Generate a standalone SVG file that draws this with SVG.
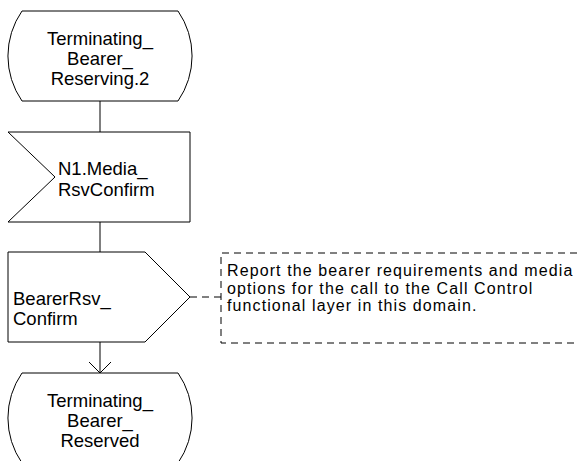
<svg xmlns="http://www.w3.org/2000/svg" width="581" height="461" viewBox="0 0 581 461">
<style>
.s{fill:#fff;stroke:#000;stroke-width:1}
.t{font-family:"Liberation Sans",Arial,sans-serif;font-size:18.5px;fill:#000}
.n{font-family:"Liberation Sans",Arial,sans-serif;font-size:16px;letter-spacing:1.1px;fill:#000}
.c{text-anchor:middle}
.l{fill:none;stroke:#000;stroke-width:1}
.d{fill:none;stroke:#000;stroke-width:1;stroke-dasharray:7 5}
</style>
<rect width="581" height="461" fill="#fff"/>
<g id="connectors">
<line class="l" x1="100" y1="101" x2="100" y2="132"/>
<line class="l" x1="100" y1="222" x2="100" y2="252"/>
<line class="l" x1="100" y1="342" x2="100" y2="373"/>
<polyline class="l" points="89,362 100,373 111,362"/>
<line class="d" x1="190" y1="297" x2="221" y2="297"/>
</g>
<g id="state1">
<path class="s" d="M22,11 L178,11 A79,79 0 0 1 178,101 L22,101 A79,79 0 0 1 22,11 Z"/>
<text class="t c" x="100" y="45">Terminating_</text>
<text class="t c" x="100" y="65">Bearer_</text>
<text class="t c" x="100" y="85">Reserving.2</text>
</g>
<g id="input1">
<polygon class="s" points="8,132 190,132 190,222 8,222 55,177"/>
<text class="t" x="58" y="175">N1.Media_</text>
<text class="t" x="58" y="196">RsvConfirm</text>
</g>
<g id="output1">
<polygon class="s" points="8,252 145,252 190,297 145,342 8,342"/>
<text class="t" x="13" y="305">BearerRsv_</text>
<text class="t" x="13" y="325">Confirm</text>
</g>
<g id="comment">
<polyline class="d" points="577,253 221,253 221,343 577,343"/>
<text class="n" x="227" y="276">Report the bearer requirements and media</text>
<text class="n" x="227" y="293.5">options for the call to the Call Control</text>
<text class="n" x="227" y="311">functional layer in this domain.</text>
</g>
<g id="state2">
<path class="s" d="M22,373 L178,373 A79,79 0 0 1 178,463 L22,463 A79,79 0 0 1 22,373 Z"/>
<text class="t c" x="100" y="407">Terminating_</text>
<text class="t c" x="100" y="427">Bearer_</text>
<text class="t c" x="100" y="447">Reserved</text>
</g>
</svg>
